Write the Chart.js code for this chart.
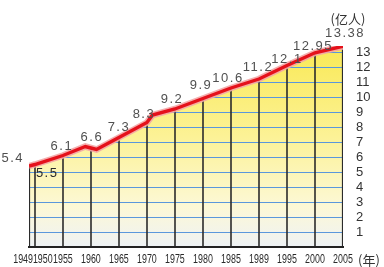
<!DOCTYPE html>
<html lang="zh">
<head>
<meta charset="UTF-8">
<title>中国人口增长示意图</title>
<script src="https://cdn.jsdelivr.net/npm/chart.js"></script>
<style>
  html, body { margin: 0; padding: 0; background: #fff; }
  canvas { display: block; }
</style>
</head>
<body>
<canvas id="grafico" width="384" height="267"></canvas>
<script>
// 横轴刻度(年)
const tickYears = [1949, 1950, 1955, 1960, 1965, 1970, 1975, 1980, 1985, 1989, 1995, 2000, 2005];
// 人口(亿人)
const lineYears  = [1949, 1950, 1955, 1959, 1960, 1961, 1965, 1970, 1971, 1975, 1980, 1985, 1989, 1995, 2000, 2005];
const lineValues = [5.4, 5.5, 6.1, 6.7, 6.6, 6.5, 7.3, 8.3, 8.8, 9.2, 9.9, 10.6, 11.2, 12.1, 12.95, 13.38];
// 纵轴刻度
const yTicks = [1, 2, 3, 4, 5, 6, 7, 8, 9, 10, 11, 12, 13];

// 1949 与 1950 挤在一起，其余刻度等距
const FIRST_GAP = 0.21;
const tickSlots = tickYears.map((y, i) => i === 0 ? -FIRST_GAP : i - 1);

function slotOf(year) {
  for (let k = 0; k < tickYears.length - 1; k++) {
    if (year <= tickYears[k + 1]) {
      const t = (year - tickYears[k]) / (tickYears[k + 1] - tickYears[k]);
      return tickSlots[k] + t * (tickSlots[k + 1] - tickSlots[k]);
    }
  }
  return tickSlots[tickSlots.length - 1];
}

const puntos = lineYears.map((y, i) => ({ x: slotOf(y), y: lineValues[i] }));

// 标注偏移（像素）
const nudges = {
  1949: { dx: -5, dy: -8, align: 'right' },
  1950: { dx: 1, dy: 9, align: 'left', color: '#2a2a2a' },
  1955: { dx: -1, dy: -9 },
  1960: { dx: 1, dy: -11 },
  1965: { dx: 0, dy: -10 },
  1970: { dx: -3, dy: -8 },
  1975: { dx: -3, dy: -10 },
  1980: { dx: -2, dy: -13 },
  1985: { dx: -3, dy: -10 },
  1989: { dx: -1, dy: -12 },
  1995: { dx: 0, dy: -6 },
  2000: { dx: -2, dy: -6 },
  2005: { dx: 2, dy: -13 }
};

const gridUnder = {
  id: 'gridUnder',
  afterDatasetDraw(chart, args) {
    if (args.index !== 0) return;
    const { ctx, chartArea, scales: { x, y } } = chart;
    const pts = args.meta.data;
    ctx.save();
    ctx.beginPath();
    ctx.moveTo(pts[0].x, chartArea.bottom);
    pts.forEach(p => ctx.lineTo(p.x, p.y));
    ctx.lineTo(pts[pts.length - 1].x, chartArea.bottom);
    ctx.closePath();
    ctx.clip();

    ctx.strokeStyle = '#5a97dc';
    ctx.lineWidth = 1.2;
    yTicks.forEach(v => {
      const py = Math.round(y.getPixelForValue(v)) + 0.5;
      ctx.beginPath();
      ctx.moveTo(chartArea.left, py);
      ctx.lineTo(chartArea.right, py);
      ctx.stroke();
    });

    ctx.strokeStyle = '#2b2b2b';
    x.ticks.forEach((t, i) => {
      const px = Math.round(x.getPixelForValue(t.value));
      ctx.lineWidth = (i === 0 || i === x.ticks.length - 1) ? 2.2 : 1.6;
      ctx.beginPath();
      ctx.moveTo(px, chartArea.top);
      ctx.lineTo(px, chartArea.bottom);
      ctx.stroke();
    });
    ctx.restore();

    ctx.save();
    ctx.strokeStyle = '#222';
    ctx.lineWidth = 2.2;
    ctx.beginPath();
    ctx.moveTo(chartArea.left - 1, chartArea.bottom);
    ctx.lineTo(chartArea.right + 1, chartArea.bottom);
    ctx.stroke();
    ctx.restore();
  }
};

const textos = {
  id: 'textos',
  afterDraw(chart) {
    const { ctx, chartArea, scales: { x, y } } = chart;
    ctx.save();

    // 数值标注
    ctx.font = '13px "Liberation Sans", Arial, sans-serif';
    ctx.textBaseline = 'middle';
    ctx.letterSpacing = '1.5px';
    lineYears.forEach((yr, i) => {
      if (!tickYears.includes(yr)) return;
      const n = nudges[yr] || { dx: 0, dy: -10 };
      const px = x.getPixelForValue(slotOf(yr));
      const py = y.getPixelForValue(lineValues[i]);
      ctx.fillStyle = n.color || '#505050';
      ctx.textAlign = n.align || 'center';
      ctx.fillText(String(lineValues[i]), px + n.dx, py + n.dy);
    });
    ctx.letterSpacing = '0px';

    // 横轴年份
    ctx.fillStyle = '#2a2a2a';
    ctx.font = '12px "Liberation Sans", Arial, sans-serif';
    const by = chartArea.bottom + 13;
    tickYears.forEach((yr, i) => {
      const px = x.getPixelForValue(tickSlots[i]);
      let align = 'center', ox = 0;
      if (i === 0) { align = 'right'; ox = 4; }
      if (i === 1) { align = 'left'; ox = -2; }
      ctx.save();
      ctx.translate(px + ox, by);
      ctx.scale(0.74, 1);
      ctx.textAlign = align;
      ctx.fillText(String(yr), 0, 0);
      ctx.restore();
    });

    // 单位
    ctx.font = '13px "Noto Sans CJK SC", sans-serif';
    ctx.fillStyle = '#333';
    ctx.textAlign = 'left';
    ctx.fillText('(年)', chartArea.right + 15, by);
    ctx.textAlign = 'center';
    ctx.fillText('(亿人)', chartArea.right + 5, 19);
    ctx.restore();
  }
};

new Chart(document.getElementById('grafico'), {
  type: 'line',
  data: {
    datasets: [
      {
        data: puntos,
        borderWidth: 0,
        pointRadius: 0,
        fill: 'origin',
        order: 3,
        backgroundColor: (context) => {
          const { ctx, chartArea } = context.chart;
          if (!chartArea) return '#fbf3a0';
          const g = ctx.createLinearGradient(0, chartArea.top, 0, chartArea.bottom);
          g.addColorStop(0, '#f9e955');
          g.addColorStop(0.45, '#fcf296');
          g.addColorStop(0.8, '#fcf8d6');
          g.addColorStop(1, '#eef2f5');
          return g;
        }
      },
      {
        data: puntos,
        borderColor: 'rgba(243,165,165,0.9)',
        borderWidth: 6.5,
        pointRadius: 0,
        fill: false,
        order: 2
      },
      {
        data: puntos,
        borderColor: '#e5111b',
        borderWidth: 3.4,
        pointRadius: 0,
        fill: false,
        order: 1
      }
    ]
  },
  options: {
    responsive: false,
    animation: false,
    layout: { padding: { left: 29, top: 46, right: 0, bottom: 0 } },
    plugins: {
      legend: { display: false },
      tooltip: { enabled: false }
    },
    scales: {
      x: {
        type: 'linear',
        min: tickSlots[0],
        max: tickSlots[tickSlots.length - 1],
        grid: { display: false },
        border: { display: false },
        ticks: { display: false },
        afterBuildTicks: (scale) => { scale.ticks = tickSlots.map(v => ({ value: v })); },
        afterFit: (scale) => { scale.height = 20; }
      },
      y: {
        type: 'linear',
        position: 'right',
        min: 0,
        max: 13.4,
        grid: { display: false },
        border: { display: false },
        afterBuildTicks: (scale) => { scale.ticks = yTicks.map(v => ({ value: v })); },
        ticks: {
          autoSkip: false,
          padding: 5,
          color: '#333',
          font: { family: '"Liberation Sans", Arial, sans-serif', size: 13 },
          callback: (v) => String(v)
        },
        afterFit: (scale) => { scale.width = 41; }
      }
    }
  },
  plugins: [gridUnder, textos]
});
</script>
</body>
</html>
